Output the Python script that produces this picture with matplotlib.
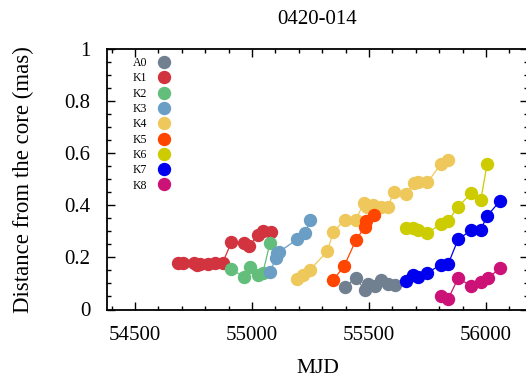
import matplotlib
matplotlib.use("Agg")
import matplotlib.pyplot as plt
from matplotlib.ticker import MultipleLocator

plt.rcParams["font.family"] = ["Liberation Serif", "DejaVu Serif"]

# ----------------------------------------------------------------------
# Component data (MJD, distance from core in mas)
# ----------------------------------------------------------------------
a0_mjd = [55397, 55444, 55482, 55495, 55525, 55550, 55581, 55611]
a0_r = [0.085, 0.122, 0.075, 0.096, 0.092, 0.115, 0.097, 0.094]

k1_mjd = [54682, 54706, 54753, 54765, 54777, 54810, 54841, 54874,
          54912, 54966, 54988, 55024, 55045, 55080]
k1_r = [0.179, 0.179, 0.177, 0.171, 0.173, 0.173, 0.177, 0.179,
        0.258, 0.256, 0.244, 0.286, 0.303, 0.296]

k2_mjd = [54912, 54966, 54991, 55024, 55046, 55077]
k2_r = [0.154, 0.126, 0.164, 0.133, 0.139, 0.256]

k3_mjd = [55077, 55102, 55108, 55116, 55192, 55226, 55249]
k3_r = [0.143, 0.197, 0.215, 0.221, 0.269, 0.293, 0.344]

k4_mjd = [55193, 55218, 55246, 55322, 55347, 55397, 55444, 55479, 55491,
          55519, 55553, 55582, 55606, 55658, 55693, 55710, 55750, 55807, 55836]
k4_r = [0.118, 0.132, 0.151, 0.223, 0.297, 0.345, 0.345, 0.410, 0.393,
        0.400, 0.394, 0.394, 0.452, 0.445, 0.484, 0.490, 0.488, 0.557, 0.573]

k5_mjd = [55347, 55394, 55444, 55481, 55489, 55521]
k5_r = [0.113, 0.167, 0.266, 0.315, 0.341, 0.362]

k6_mjd = [55657, 55689, 55710, 55750, 55806, 55838, 55881, 55938, 55978, 56005]
k6_r = [0.311, 0.311, 0.307, 0.294, 0.327, 0.339, 0.394, 0.447, 0.419, 0.558]

k7_mjd = [55657, 55689, 55710, 55750, 55806, 55838, 55881, 55938, 55978, 56005, 56059]
k7_r = [0.110, 0.132, 0.126, 0.141, 0.171, 0.173, 0.269, 0.305, 0.307, 0.358, 0.416]

k8_mjd = [55806, 55838, 55881, 55938, 55981, 56009, 56059]
k8_r = [0.052, 0.039, 0.120, 0.090, 0.107, 0.120, 0.158]

labels = ["A0", "K1", "K2", "K3", "K4", "K5", "K6", "K7", "K8"]
colors = ["#708090", "#D1343F", "#62BE7A", "#6A9EC5", "#EEC85A",
          "#FF4500", "#CCCC00", "#0000EE", "#CC1177"]
series = [(a0_mjd, a0_r), (k1_mjd, k1_r), (k2_mjd, k2_r), (k3_mjd, k3_r),
          (k4_mjd, k4_r), (k5_mjd, k5_r), (k6_mjd, k6_r), (k7_mjd, k7_r),
          (k8_mjd, k8_r)]


fig = plt.figure(figsize=(5.26, 3.78), dpi=100)
ax = fig.add_axes([107 / 526, 1 - 309.5 / 378, 421 / 526, 260.5 / 378])

for (x, y), lab, col in zip(series, labels, colors):
    ax.plot(x, y, "-o", color=col, lw=0.9, ms=8.6, mec=col, label=lab)

ax.set_xlim(54380, 56180)
ax.set_ylim(0, 1)
ax.xaxis.set_major_locator(MultipleLocator(500))
ax.xaxis.set_minor_locator(MultipleLocator(100))
ax.yaxis.set_major_locator(MultipleLocator(0.2))
ax.yaxis.set_minor_locator(MultipleLocator(0.05))
ax.yaxis.set_major_formatter(plt.FuncFormatter(lambda v, p: f"{v:g}"))
ax.tick_params(which="both", direction="in", top=True, right=True,
               labelsize=15, width=1)
ax.tick_params(which="major", length=6)
ax.tick_params(which="minor", length=3)
ax.tick_params(axis="x", pad=12)
ax.tick_params(axis="y", pad=12)
for sp in ax.spines.values():
    sp.set_linewidth(1.3)

ax.set_xlabel("MJD", fontsize=15.5, labelpad=10)
ax.set_ylabel("Distance from the core (mas)", fontsize=16.5, labelpad=22)
ax.set_title("0420-014", fontsize=15, pad=18)

ax.legend(loc="upper left", frameon=False, markerfirst=False, fontsize=8.5,
          handlelength=0, handletextpad=1.45, labelspacing=0.28,
          borderaxespad=0.4, bbox_to_anchor=(0.038, 1.005))

plt.savefig("out.png", dpi=100)
plt.close(fig)
